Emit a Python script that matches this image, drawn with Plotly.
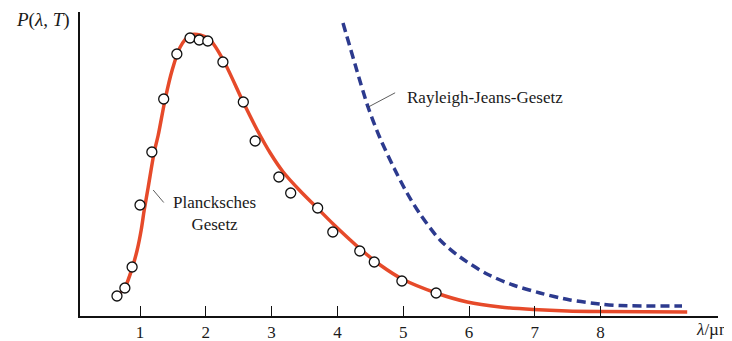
import plotly.graph_objects as go

# Measured data points (wavelength in µm, relative spectral power)
meas_x = [0.65, 0.77, 0.88, 1.00, 1.18, 1.36, 1.56, 1.76, 1.90, 2.03, 2.26, 2.57,
          2.75, 3.11, 3.29, 3.70, 3.93, 4.34, 4.56, 4.98, 5.50]
meas_y = [0.20, 0.28, 0.49, 1.11, 1.64, 2.17, 2.62, 2.78, 2.76, 2.75, 2.54, 2.14,
          1.75, 1.39, 1.23, 1.08, 0.84, 0.65, 0.54, 0.35, 0.23]

# Planck curve
planck_x = [0.667, 0.774, 0.881, 0.957, 1.018, 1.064, 1.125, 1.216, 1.277, 1.383,
            1.489, 1.611, 1.763, 1.915, 2.067, 2.265, 2.568, 2.781, 2.979, 3.176,
            3.435, 3.693, 3.936, 4.195, 4.347, 4.650, 4.985, 5.502, 5.973, 6.474,
            6.976, 7.492, 7.994, 9.316]
planck_y = [0.21, 0.29, 0.48, 0.66, 0.86, 1.06, 1.29, 1.64, 1.81, 2.17,
            2.46, 2.69, 2.81, 2.81, 2.76, 2.56, 2.14, 1.86, 1.63, 1.44,
            1.25, 1.08, 0.92, 0.76, 0.67, 0.51, 0.37, 0.23, 0.14, 0.09,
            0.065, 0.05, 0.045, 0.04]

# Rayleigh-Jeans curve
rj_x = [4.085, 4.267, 4.465, 4.647, 4.860, 5.058, 5.255, 5.559, 5.863, 6.273,
        6.669, 7.079, 7.535, 7.991, 8.295, 9.237]
rj_y = [2.93, 2.52, 2.09, 1.78, 1.48, 1.23, 1.02, 0.76, 0.59, 0.42,
        0.31, 0.23, 0.16, 0.12, 0.105, 0.10]

x_ticks = [1, 2, 3, 4, 5, 6, 7, 8]
x_ticklabels = ["1", "2", "3", "4", "5", "6", "7", "8"]

SERIF = "Liberation Serif, Times New Roman, serif"
RED = "#E64A2A"
BLUE = "#2C3A8E"
TXT = "#1a1a1a"

fig = go.Figure()

fig.add_trace(go.Scatter(
    x=planck_x, y=planck_y, mode="lines",
    line=dict(color=RED, width=3.5, shape="spline", smoothing=0.8),
    hoverinfo="skip", showlegend=False))

fig.add_trace(go.Scatter(
    x=rj_x, y=rj_y, mode="lines",
    line=dict(color=BLUE, width=3.5, dash="9px,5px", shape="spline", smoothing=0.8),
    hoverinfo="skip", showlegend=False))

fig.add_trace(go.Scatter(
    x=meas_x, y=meas_y, mode="markers",
    marker=dict(size=10, color="white", line=dict(color="#111111", width=1.3)),
    hoverinfo="skip", showlegend=False))

ann_font = dict(family=SERIF, size=17, color=TXT)

fig.add_annotation(x=5.03, y=2.19, text="Rayleigh-Jeans-Gesetz", showarrow=False,
                   xanchor="left", yanchor="middle", font=ann_font)
fig.add_annotation(x=4.47, y=2.09, ax=4.90, ay=2.24, axref="x", ayref="y",
                   text="", showarrow=True, arrowhead=0, arrowwidth=0.8,
                   arrowcolor="#333333")

fig.add_annotation(x=2.125, y=1.03, text="Plancksches<br>Gesetz", showarrow=False,
                   xanchor="center", yanchor="middle", align="center", font=ann_font)
fig.add_annotation(x=1.20, y=1.26, ax=1.38, ay=1.12, axref="x", ayref="y",
                   text="", showarrow=True, arrowhead=0, arrowwidth=0.8,
                   arrowcolor="#333333")

fig.add_annotation(xref="paper", yref="paper", x=-0.0125, y=0.974,
                   text="<i>P</i>(<i>λ</i>, <i>T</i>)", showarrow=False,
                   xanchor="right", yanchor="middle",
                   font=dict(family=SERIF, size=19, color=TXT))
fig.add_annotation(xref="paper", yref="paper", x=0.962, y=-0.046,
                   text="<i>λ</i>/µm", showarrow=False,
                   xanchor="left", yanchor="middle",
                   font=dict(family=SERIF, size=17, color=TXT))

# The page body adds an 8px offset, so the figure is 8px smaller than the window
fig.update_layout(
    width=724, height=333,
    margin=dict(l=72, r=14, t=4, b=25, autoexpand=False),
    paper_bgcolor="white", plot_bgcolor="white",
    font=dict(family=SERIF, size=17, color=TXT),
    xaxis=dict(range=[0.088, 9.784], showgrid=False, zeroline=False,
               automargin=False,
               showline=True, linecolor="#111111", linewidth=1.5,
               tickmode="array", tickvals=x_ticks, ticktext=x_ticklabels,
               ticks="inside", ticklen=10, tickwidth=1.2, tickcolor="#111111",
               tickfont=dict(family=SERIF, size=17, color=TXT)),
    yaxis=dict(range=[0, 3.04], showgrid=False, zeroline=False,
               automargin=False,
               showline=True, linecolor="#111111", linewidth=1.5,
               showticklabels=False, ticks=""),
)

fig.write_html("out.html")
